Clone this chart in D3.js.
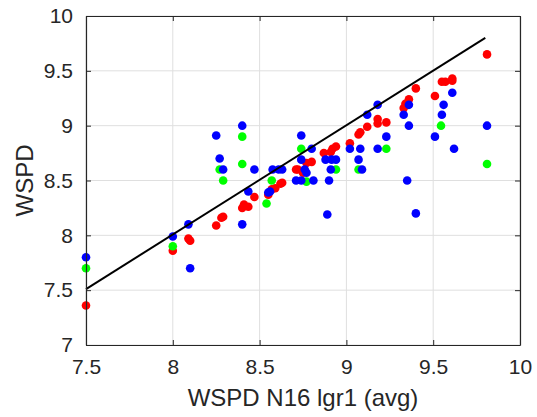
<!DOCTYPE html>
<html><head><meta charset="utf-8">
<script src="https://cdn.jsdelivr.net/npm/d3@7"></script>
<style>body{margin:0;background:#fff}svg{display:block}</style>
</head><body>
<script>
const xTicks = [7.5, 8, 8.5, 9, 9.5, 10];
const yTicks = [7, 7.5, 8, 8.5, 9, 9.5, 10];
const xLabel = "WSPD N16 lgr1 (avg)";
const yLabel = "WSPD";

const redX = [7.5,8.0,8.09,8.10,8.25,8.28,8.29,8.40,8.41,8.435,8.47,8.55,8.57,8.59,8.62,8.63,8.71,8.72,8.75,8.77,8.80,8.87,8.91,8.92,8.94,9.02,9.07,9.08,9.12,9.18,9.18,9.23,9.33,9.34,9.36,9.40,9.51,9.55,9.57,9.61,9.61,9.81];
const redY = [7.36,7.86,7.97,7.95,8.09,8.16,8.17,8.25,8.28,8.26,8.35,8.37,8.42,8.43,8.47,8.48,8.60,8.60,8.57,8.66,8.67,8.75,8.76,8.79,8.81,8.84,8.92,8.94,8.99,9.02,9.06,9.03,9.16,9.20,9.24,9.34,9.27,9.40,9.40,9.41,9.43,9.65];

const greenX = [7.5,8.0,8.40,8.27,8.29,8.40,8.57,8.54,8.74,8.77,8.94,9.07,9.23,9.545,9.81];
const greenY = [7.70,7.90,8.90,8.60,8.50,8.65,8.50,8.29,8.79,8.49,8.60,8.60,8.79,9.00,8.65];

const blueX = [7.5,8.0,8.09,8.10,8.40,8.25,8.27,8.29,8.47,8.575,8.61,8.63,8.435,8.55,8.56,8.40,8.74,8.80,8.74,8.76,8.77,8.71,8.74,8.81,8.90,8.89,8.88,8.915,8.94,8.91,9.02,9.08,9.07,9.09,9.12,9.18,9.18,9.23,9.36,9.33,9.36,9.35,9.40,9.61,9.56,9.55,9.51,9.62,9.81];
const blueY = [7.80,7.99,8.10,7.70,9.00,8.91,8.70,8.60,8.60,8.60,8.60,8.60,8.40,8.39,8.40,8.10,8.91,8.79,8.69,8.60,8.57,8.50,8.50,8.50,8.50,8.19,8.69,8.69,8.69,8.60,8.79,8.79,8.69,8.60,9.10,9.19,8.79,8.90,9.19,9.10,9.00,8.50,8.20,9.30,9.19,9.10,8.90,8.79,9.00];

const fitX = [7.5, 9.8];
const fitY = [7.51, 9.80];

const W = 537, H = 417;
const m = {left: 86, right: 17, top: 16, bottom: 72};
const FONT = "'Liberation Sans', Arial, sans-serif";
const svg = d3.select("body").append("svg").attr("width", W).attr("height", H)
  .style("font-family", FONT);

const x = d3.scaleLinear().domain([7.5, 10]).range([m.left, W - m.right]);
const y = d3.scaleLinear().domain([7, 10]).range([H - m.bottom, m.top]);
const axisCol = "#262626";

// grid
svg.append("g").selectAll("line").data(xTicks).join("line")
  .attr("x1", d => x(d)).attr("x2", d => x(d)).attr("y1", y(7)).attr("y2", y(10))
  .attr("stroke", "#dfdfdf").attr("stroke-width", 1);
svg.append("g").selectAll("line").data(yTicks).join("line")
  .attr("y1", d => y(d)).attr("y2", d => y(d)).attr("x1", x(7.5)).attr("x2", x(10))
  .attr("stroke", "#dfdfdf").attr("stroke-width", 1);

// points
function dots(xs, ys, col) {
  svg.append("g").selectAll("circle").data(xs.map((d, i) => [d, ys[i]])).join("circle")
    .attr("cx", d => x(d[0])).attr("cy", d => y(d[1])).attr("r", 4.3).attr("fill", col);
}
dots(redX, redY, "#ff0000");
dots(greenX, greenY, "#00ff00");
dots(blueX, blueY, "#0000ff");

// fit line
svg.append("path").datum(fitX.map((d, i) => [d, fitY[i]]))
  .attr("d", d3.line().x(d => x(d[0])).y(d => y(d[1])))
  .attr("stroke", "#000").attr("stroke-width", 2).attr("fill", "none");

// axes
const fmt = d => String(d);
const gx = svg.append("g").attr("transform", `translate(0,${y(7)})`)
  .call(d3.axisBottom(x).tickValues(xTicks).tickFormat(fmt).tickSizeInner(-5).tickSizeOuter(0).tickPadding(14));
const gxt = svg.append("g").attr("transform", `translate(0,${y(10)})`)
  .call(d3.axisTop(x).tickValues(xTicks).tickFormat("").tickSizeInner(-5).tickSizeOuter(0));
const gy = svg.append("g").attr("transform", `translate(${x(7.5)},0)`)
  .call(d3.axisLeft(y).tickValues(yTicks).tickFormat(fmt).tickSizeInner(-5).tickSizeOuter(0).tickPadding(13));
const gyr = svg.append("g").attr("transform", `translate(${x(10)},0)`)
  .call(d3.axisRight(y).tickValues(yTicks).tickFormat("").tickSizeInner(-5).tickSizeOuter(0));
[gx, gxt, gy, gyr].forEach(g => {
  g.select(".domain").attr("stroke", axisCol).attr("stroke-width", 1.2);
  g.selectAll(".tick line").attr("stroke", axisCol);
  g.selectAll("text").attr("fill", axisCol).style("font-size", "21px").style("font-family", FONT);
});

svg.append("text").attr("x", (x(7.5) + x(10)) / 2).attr("y", 406).attr("text-anchor", "middle")
  .attr("fill", axisCol).style("font-size", "24px").text(xLabel);
svg.append("text").attr("transform", `translate(33,${(y(7) + y(10)) / 2}) rotate(-90)`).attr("text-anchor", "middle")
  .attr("fill", axisCol).style("font-size", "24px").text(yLabel);
</script>
</body></html>
